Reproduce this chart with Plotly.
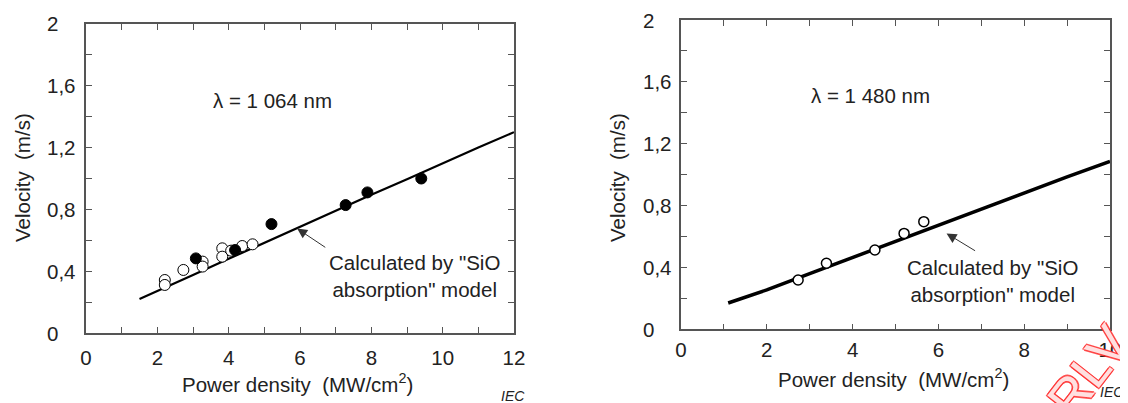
import plotly.graph_objects as go

# ---------------- data ----------------
# Left panel: lambda = 1 064 nm
curve1_x = [1.5, 2, 3, 4, 5, 6, 7, 8, 9, 10, 11, 12]
curve1_y = [0.22, 0.27, 0.375, 0.48, 0.585, 0.69, 0.79, 0.895, 0.995, 1.10, 1.20, 1.30]
open1_x = [2.21, 2.21, 2.73, 3.27, 3.27, 3.82, 3.82, 4.07, 4.38, 4.67]
open1_y = [0.343, 0.311, 0.408, 0.462, 0.43, 0.548, 0.494, 0.533, 0.563, 0.574]
filled1_x = [3.08, 4.18, 5.2, 7.28, 7.89, 9.4]
filled1_y = [0.483, 0.537, 0.705, 0.828, 0.91, 1.0]

# Right panel: lambda = 1 480 nm
curve2_x = [1.1, 2, 3, 4, 5, 6, 7, 8, 9, 10]
curve2_y = [0.17, 0.255, 0.36, 0.465, 0.57, 0.675, 0.78, 0.88, 0.985, 1.085]
open2_x = [2.73, 3.39, 4.52, 5.2, 5.66]
open2_y = [0.319, 0.427, 0.513, 0.62, 0.696]

# ticks
x1_tickvals = list(range(0, 13))
x1_ticktext = [str(v) if v % 2 == 0 else "" for v in x1_tickvals]
x2_tickvals = list(range(0, 11))
x2_ticktext = [str(v) if v % 2 == 0 else "" for v in x2_tickvals]
y_tickvals = [0, 0.2, 0.4, 0.6, 0.8, 1.0, 1.2, 1.4, 1.6, 1.8, 2.0]
y_labelvals = [0, 0.4, 0.8, 1.2, 1.6, 2.0]
y_labeltext = ["0", "0,4", "0,8", "1,2", "1,6", "2"]

# page has an 8 px body margin: the figure is offset by OFF px
OFF = 8
W, H = 1128 - OFF, 403 - OFF
FONT = "Liberation Sans, Arial, sans-serif"
FS = 20.5
TXT = "#222222"
AX = "#555555"


def px(x):
    return (x - OFF) / W


def py(y):
    return 1 - (y - OFF) / H


fig = go.Figure()

fig.add_trace(go.Scatter(x=curve1_x, y=curve1_y, mode="lines",
                         line=dict(color="black", width=2.2), xaxis="x", yaxis="y"))
fig.add_trace(go.Scatter(x=open1_x, y=open1_y, mode="markers",
                         marker=dict(symbol="circle", size=11, color="white",
                                     line=dict(color="black", width=1)),
                         xaxis="x", yaxis="y"))
fig.add_trace(go.Scatter(x=filled1_x, y=filled1_y, mode="markers",
                         marker=dict(symbol="circle", size=11, color="black",
                                     line=dict(color="black", width=1)),
                         xaxis="x", yaxis="y"))

fig.add_trace(go.Scatter(x=curve2_x, y=curve2_y, mode="lines",
                         line=dict(color="black", width=3.5), xaxis="x2", yaxis="y2"))
fig.add_trace(go.Scatter(x=open2_x, y=open2_y, mode="markers",
                         marker=dict(symbol="circle", size=10, color="white",
                                     line=dict(color="black", width=1.5)),
                         xaxis="x2", yaxis="y2"))

axis_common = dict(showline=True, linecolor=AX, linewidth=1.5, mirror="allticks",
                   ticks="inside", ticklen=6, tickwidth=1.2, tickcolor=AX,
                   showgrid=False, zeroline=False, automargin=False,
                   tickfont=dict(family=FONT, size=FS, color=TXT))

fig.update_layout(
    template="none",
    width=W, height=H,
    margin=dict(l=0, r=0, t=0, b=0, pad=0),
    paper_bgcolor="white", plot_bgcolor="white",
    showlegend=False,
    xaxis=dict(domain=[px(86), px(514)], range=[0, 12], anchor="y",
               tickmode="array", tickvals=x1_tickvals, ticktext=x1_ticktext,
               ticklabelstandoff=6, **axis_common),
    yaxis=dict(domain=[py(333), py(24)], range=[0, 2], anchor="x",
               tickmode="array", tickvals=y_tickvals, showticklabels=False,
               **axis_common),
    xaxis2=dict(domain=[px(681), px(1110)], range=[0, 10], anchor="y2",
                tickmode="array", tickvals=x2_tickvals, ticktext=x2_ticktext,
                ticklabelstandoff=1, **axis_common),
    yaxis2=dict(domain=[py(329.3), py(20)], range=[0, 2], anchor="x2",
                tickmode="array", tickvals=y_tickvals, showticklabels=False,
                **axis_common),
)

font = dict(family=FONT, size=FS, color=TXT)
C = dict(xanchor="center", yanchor="middle", showarrow=False)
ann = []
# left-aligned y tick labels (as in the reference)
for yref, xl in [("y", 45), ("y2", 641)]:
    for v, t in zip(y_labelvals, y_labeltext):
        ann.append(dict(x=px(xl), y=v, xref="paper", yref=yref, text=t,
                        xanchor="left", yanchor="middle", showarrow=False,
                        font=font))
# lambda labels
ann.append(dict(x=5.24, y=1.508, xref="x", yref="y", text="λ = 1 064 nm",
                font=font, **C))
ann.append(dict(x=4.41, y=1.515, xref="x2", yref="y2", text="λ = 1 480 nm",
                font=font, **C))
# model labels
ann.append(dict(x=9.22, y=0.369, xref="x", yref="y",
                text="Calculated by \"SiO<br>absorption\" model",
                font=font, align="center", **C))
ann.append(dict(x=7.25, y=0.312, xref="x2", yref="y2",
                text="Calculated by \"SiO<br>absorption\" model",
                font=font, align="center", **C))
# arrows
ann.append(dict(x=5.92, y=0.676, ax=6.75, ay=0.548, xref="x", yref="y",
                axref="x", ayref="y", text="", showarrow=True,
                arrowhead=2, arrowsize=2, arrowwidth=1, arrowcolor="#333333"))
ann.append(dict(x=6.19, y=0.62, ax=6.89, ay=0.502, xref="x2", yref="y2",
                axref="x2", ayref="y2", text="", showarrow=True,
                arrowhead=2, arrowsize=2, arrowwidth=1, arrowcolor="#333333"))
# axis titles
for xc, yc in [(22, 178), (617, 178)]:
    ann.append(dict(x=px(xc), y=py(yc), xref="paper", yref="paper",
                    text="Velocity\u00a0\u00a0(m/s)", textangle=-90,
                    font=font, **C))
for xc, yc in [(297, 383), (893, 378)]:
    ann.append(dict(x=px(xc), y=py(yc), xref="paper", yref="paper",
                    text="Power density\u00a0\u00a0(MW/cm<sup>2</sup>)",
                    font=font, **C))
# IEC marks
for xc, yc in [(513, 396), (1112, 392)]:
    ann.append(dict(x=px(xc), y=py(yc), xref="paper", yref="paper",
                    text="<i>IEC</i>",
                    font=dict(family=FONT, size=14, color=TXT), **C))
# red outlined watermark
ann.append(dict(x=px(1089), y=py(371), xref="paper", yref="paper",
                text="RLV", textangle=-52,
                font=dict(family=FONT, size=52, color="rgba(255,255,255,0.85)",
                          shadow="-1.2px -1.2px 0 #ff3030, 1.2px -1.2px 0 #ff3030, "
                                 "-1.2px 1.2px 0 #ff3030, 1.2px 1.2px 0 #ff3030"),
                **C))

fig.update_layout(annotations=ann)

fig.write_html("out.html")
